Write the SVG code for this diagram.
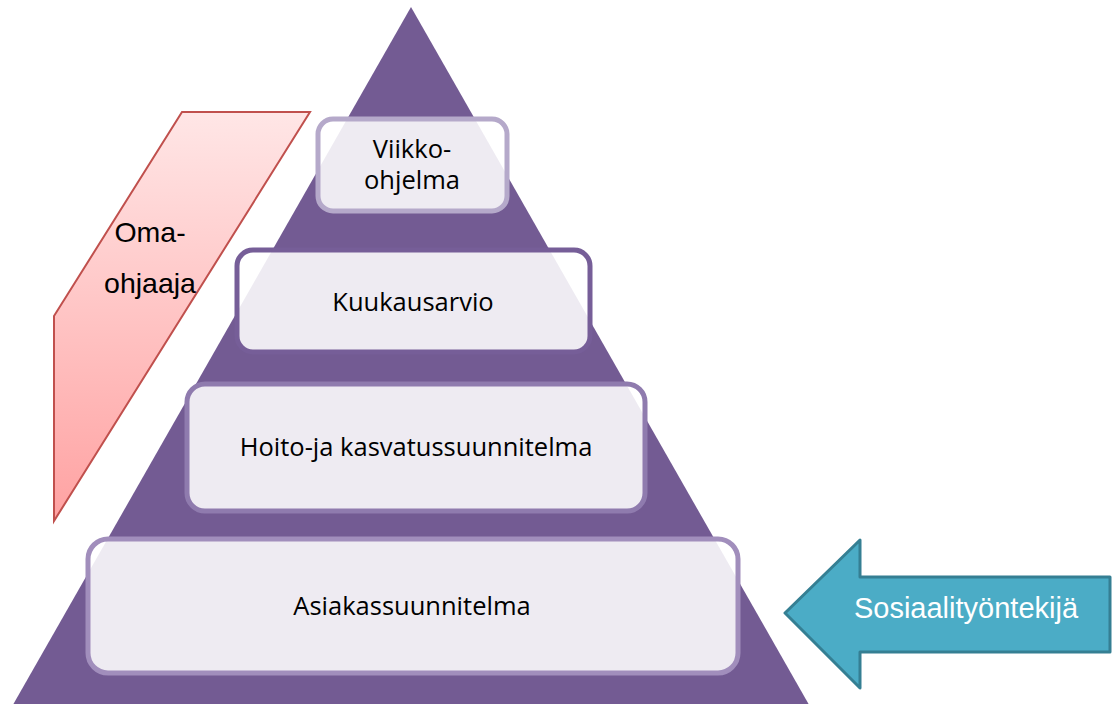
<svg xmlns="http://www.w3.org/2000/svg" width="1116" height="704" viewBox="0 0 1116 704">
<defs>
<linearGradient id="pink" x1="0" y1="0" x2="0" y2="1">
<stop offset="0" stop-color="#ffe6e6"/>
<stop offset="1" stop-color="#ffa2a2"/>
</linearGradient>
<style>
.box{fill:#ffffff;fill-opacity:0.88;stroke-width:5}
.lbl{font-family:"Open Sans","Liberation Sans",sans-serif;font-size:25.5px;fill:#000;text-anchor:middle}
.side{font-family:"Liberation Sans",Arial,sans-serif;font-size:28.5px;fill:#000;text-anchor:middle}
</style>
</defs>
<rect width="1116" height="704" fill="#ffffff"/>
<g id="pyramid">
<polygon points="411,7 812,710 10,710" fill="#735b93"/>
</g>
<g id="omaohjaaja">
<polygon points="182,112 310,112 54,521 54,316" fill="url(#pink)" stroke="#c0504d" stroke-width="2"/>
<text class="side" x="150" y="242">Oma-</text>
<text class="side" x="150" y="293">ohjaaja</text>
</g>
<g id="viikko">
<rect class="box" x="318" y="119" width="189" height="92" rx="15" stroke="#b5a9ca"/>
<text class="lbl" x="412" y="158">Viikko-</text>
<text class="lbl" x="412" y="189">ohjelma</text>
</g>
<g id="kuukausarvio">
<rect class="box" x="237" y="250" width="353" height="102" rx="16" stroke="#765e98"/>
<text class="lbl" x="413" y="311">Kuukausarvio</text>
</g>
<g id="hoito">
<rect class="box" x="187" y="384" width="458" height="127" rx="18" stroke="#8f7bae"/>
<text class="lbl" x="416" y="456">Hoito-ja kasvatussuunnitelma</text>
</g>
<g id="asiakas">
<rect class="box" x="88" y="539" width="650" height="134" rx="20" stroke="#a18ebc"/>
<text class="lbl" x="412" y="615">Asiakassuunnitelma</text>
</g>
<g id="sosiaalityontekija">
<polygon points="785,613 860,540 860,577 1110,577 1110,652 860,652 860,688" fill="#4bacc6" stroke="#357f93" stroke-width="3" stroke-linejoin="round"/>
<text x="966" y="618" font-family="Liberation Sans,Arial,sans-serif" font-size="29" fill="#ffffff" text-anchor="middle">Sosiaalityöntekijä</text>
</g>
<g id="connectors"/>
</svg>
